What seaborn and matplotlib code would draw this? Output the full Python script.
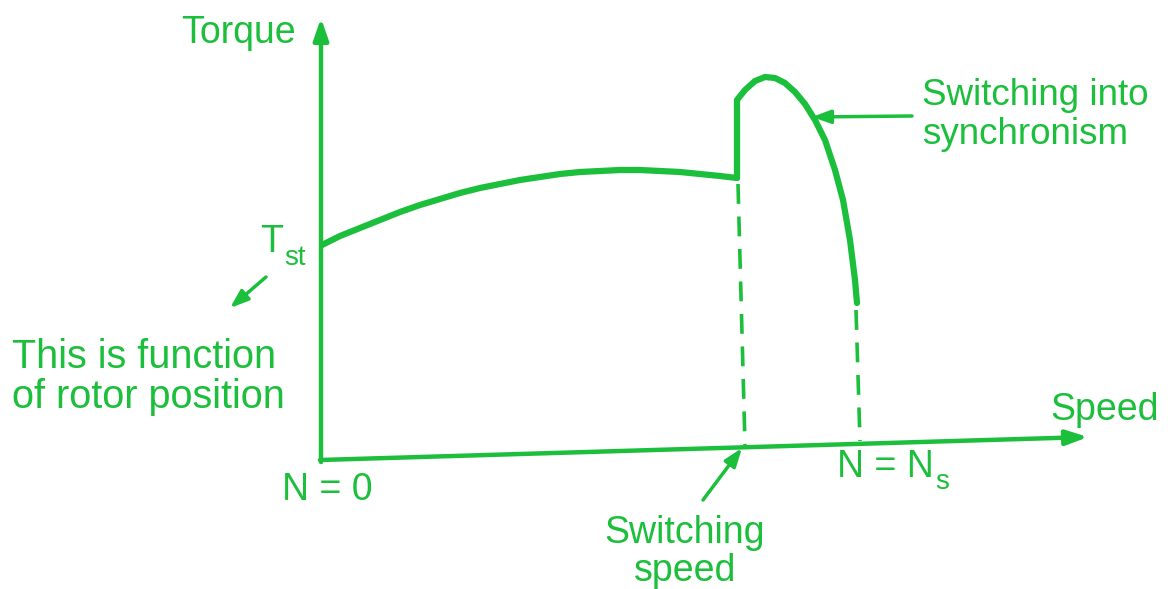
import numpy as np
import matplotlib
matplotlib.use("Agg")
import matplotlib.pyplot as plt
import seaborn as sns

sns.set_style("white")
plt.rcParams['font.family'] = ['Liberation Sans', 'DejaVu Sans']

GREEN = "#1cbf3c"

# torque-speed curve (drawing units, y grows downward)
async_speed = [322, 340, 360, 380, 400, 420, 440, 460, 480, 500, 520, 540,
               560, 580, 600, 620, 640, 660, 680, 700, 720, 737]
async_torque = [245, 236, 228, 220, 212, 205, 199, 193, 188, 184, 180, 177,
                174, 172, 171, 170, 170, 171, 172, 174, 176, 178]

sync_speed = [737, 737, 745, 755, 765, 775, 785, 795, 805, 815, 825, 835,
              843, 850, 855, 857]
sync_torque = [178, 100, 90, 81, 77, 78, 83, 92, 104, 120, 140, 170,
               200, 240, 280, 303]

# dashed drop lines
switch_x = [738, 745]
switch_y = [184, 445]
sync_x = [856, 860]
sync_y = [310, 441]

fig = plt.figure(figsize=(11.68, 5.89), dpi=100)
ax = fig.add_axes([0, 0, 1, 1])
ax.set_xlim(0, 1168)
ax.set_ylim(589, 0)
ax.axis("off")

sns.lineplot(x=async_speed, y=async_torque, sort=False, estimator=None,
             color=GREEN, lw=4.5, ax=ax)
sns.lineplot(x=sync_speed, y=sync_torque, sort=False, estimator=None,
             color=GREEN, lw=4.5, ax=ax)
ax.plot(switch_x, switch_y, color=GREEN, lw=2.6, dashes=(5.5, 3.5))
ax.plot(sync_x, sync_y, color=GREEN, lw=2.6, dashes=(5.5, 3.5))

# axes of the diagram
arrow = dict(arrowstyle="-|>,head_length=1.3,head_width=0.45", color=GREEN, lw=3.2,
             shrinkA=0, shrinkB=0)
ax.annotate("", xy=(321, 18), xytext=(321, 462), arrowprops=arrow)
ax.annotate("", xy=(1088, 437), xytext=(320, 460), arrowprops=arrow)

small = dict(arrowstyle="-|>,head_length=1.1,head_width=0.4", color=GREEN, lw=2.5,
             shrinkA=0, shrinkB=0)
ax.annotate("", xy=(230, 308), xytext=(266, 277), arrowprops=small)
ax.annotate("", xy=(742, 448), xytext=(703, 500), arrowprops=small)
ax.annotate("", xy=(812, 117), xytext=(912, 116), arrowprops=small)

fs = 27
ax.text(238, 33, "Torque", color=GREEN, fontsize=fs, ha="center", va="center")
ax.text(260, 252, "T", color=GREEN, fontsize=fs, ha="left", va="baseline")
ax.text(284, 265, "st", color=GREEN, fontsize=20, ha="left", va="baseline")
ax.text(12, 377, "This is function\nof rotor position", color=GREEN, fontsize=28.5,
        ha="left", va="center", linespacing=1.08)
ax.text(327, 490, "N = 0", color=GREEN, fontsize=fs, ha="center", va="center")
ax.text(685, 552, "Switching\nspeed", color=GREEN, fontsize=fs, ha="center", va="center",
        linespacing=1.1)
ax.text(837, 477, "N = N", color=GREEN, fontsize=fs, ha="left", va="baseline")
ax.text(935, 489, "s", color=GREEN, fontsize=20, ha="left", va="baseline")
ax.text(1105, 410, "Speed", color=GREEN, fontsize=fs, ha="center", va="center")
ax.text(922, 115, "Switching into\nsynchronism", color=GREEN, fontsize=26.5, ha="left",
        va="center", linespacing=1.12)

fig.savefig("out.png", dpi=100)
